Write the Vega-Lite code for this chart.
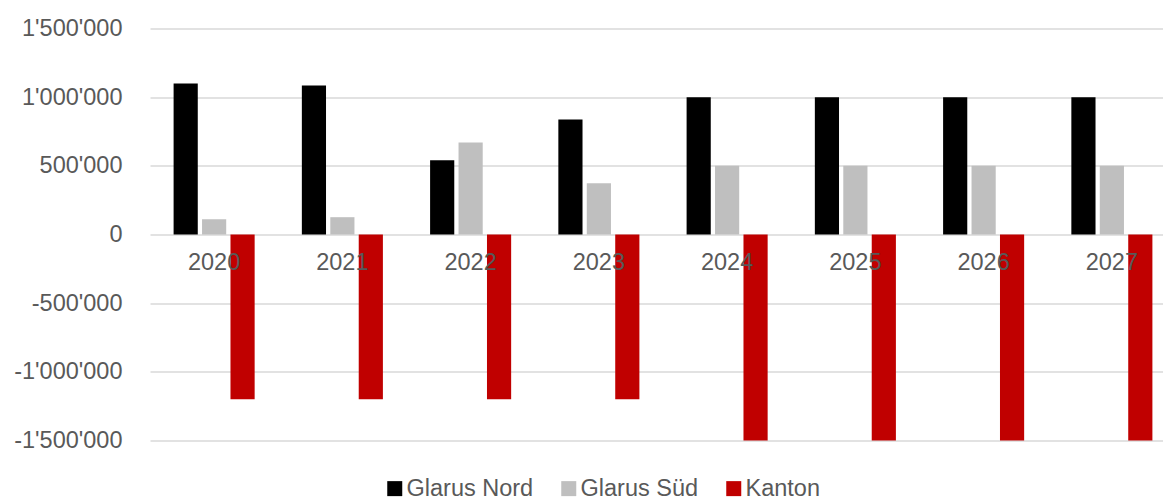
{
  "$schema": "https://vega.github.io/schema/vega-lite/v6.json",
  "autosize": "none",
  "width": 1026,
  "height": 412,
  "padding": {"left": 150, "top": 28.5, "right": 0, "bottom": 70},
  "config": {
    "font": "Liberation Sans",
    "view": {"stroke": null}
  },
  "data": {
    "values": [
      {"year": "2020", "series": "Glarus Nord", "value": 1100000},
      {"year": "2020", "series": "Glarus Süd", "value": 111000},
      {"year": "2020", "series": "Kanton", "value": -1200000},
      {"year": "2021", "series": "Glarus Nord", "value": 1085000},
      {"year": "2021", "series": "Glarus Süd", "value": 126000},
      {"year": "2021", "series": "Kanton", "value": -1200000},
      {"year": "2022", "series": "Glarus Nord", "value": 541000},
      {"year": "2022", "series": "Glarus Süd", "value": 670000},
      {"year": "2022", "series": "Kanton", "value": -1200000},
      {"year": "2023", "series": "Glarus Nord", "value": 838000},
      {"year": "2023", "series": "Glarus Süd", "value": 374000},
      {"year": "2023", "series": "Kanton", "value": -1200000},
      {"year": "2024", "series": "Glarus Nord", "value": 1000000},
      {"year": "2024", "series": "Glarus Süd", "value": 500000},
      {"year": "2024", "series": "Kanton", "value": -1500000},
      {"year": "2025", "series": "Glarus Nord", "value": 1000000},
      {"year": "2025", "series": "Glarus Süd", "value": 500000},
      {"year": "2025", "series": "Kanton", "value": -1500000},
      {"year": "2026", "series": "Glarus Nord", "value": 1000000},
      {"year": "2026", "series": "Glarus Süd", "value": 500000},
      {"year": "2026", "series": "Kanton", "value": -1500000},
      {"year": "2027", "series": "Glarus Nord", "value": 1000000},
      {"year": "2027", "series": "Glarus Süd", "value": 500000},
      {"year": "2027", "series": "Kanton", "value": -1500000}
    ]
  },
  "mark": {"type": "bar"},
  "encoding": {
    "x": {
      "field": "year",
      "type": "nominal",
      "scale": {"paddingInner": 0.368, "paddingOuter": 0.184},
      "axis": {
        "title": null,
        "labelAngle": 0,
        "offset": -206,
        "domain": false,
        "ticks": false,
        "grid": false,
        "zindex": 1,
        "labelFontSize": 23.5,
        "labelColor": "#595959",
        "labelPadding": 16
      }
    },
    "xOffset": {
      "field": "series",
      "type": "nominal",
      "scale": {"paddingInner": 0.15, "paddingOuter": 0}
    },
    "y": {
      "field": "value",
      "type": "quantitative",
      "scale": {"domain": [-1500000, 1500000], "nice": false},
      "axis": {
        "title": null,
        "values": [-1500000, -1000000, -500000, 0, 500000, 1000000, 1500000],
        "labelExpr": "replace(replace(format(datum.value, ','), regexp(',', 'g'), \"'\"), '−', '-')",
        "domain": false,
        "ticks": false,
        "grid": true,
        "gridColor": "#d9d9d9",
        "gridWidth": 1.5,
        "labelFontSize": 23.5,
        "labelColor": "#595959",
        "labelPadding": 28
      }
    },
    "color": {
      "field": "series",
      "type": "nominal",
      "scale": {"domain": ["Glarus Nord", "Glarus Süd", "Kanton"], "range": ["#000000", "#bfbfbf", "#c00000"]},
      "legend": {
        "title": null,
        "orient": "none",
        "direction": "horizontal",
        "legendX": 233,
        "legendY": 448,
        "symbolType": "square",
        "symbolSize": 225,
        "symbolStrokeWidth": 0,
        "labelFontSize": 23.5,
        "labelColor": "#595959",
        "labelOffset": 0,
        "columnPadding": 23
      }
    }
  }
}
